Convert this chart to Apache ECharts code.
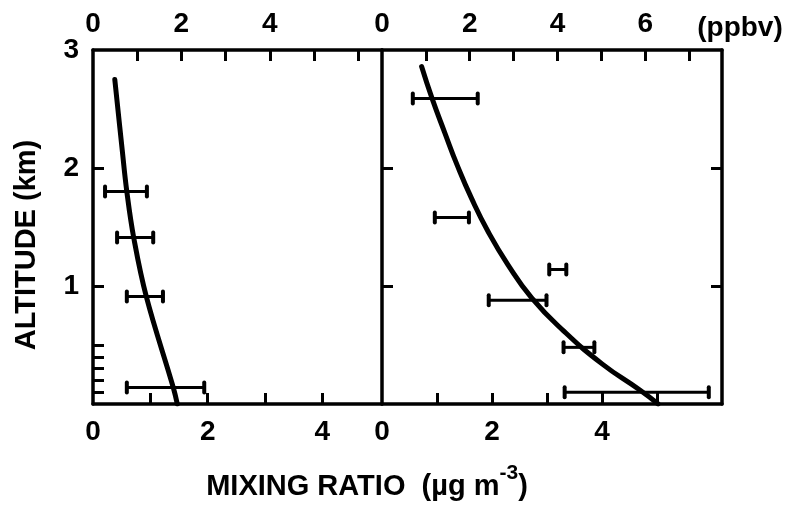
<!DOCTYPE html>
<html>
<head>
<meta charset="utf-8">
<script src="https://cdn.jsdelivr.net/npm/echarts@6/dist/echarts.min.js"></script>
<style>html,body{margin:0;padding:0;background:#fff}#c{width:787px;height:506px}</style>
</head>
<body>
<div id="c"></div>
<script>
// Left panel: fitted curve [mixing ratio (ug m-3), altitude (km)]
const leftCurve = [[0.38,2.75],[0.51,2.15],[0.59,1.80],[0.71,1.41],[0.93,0.91],[1.40,0.14],[1.47,0.0]];
// Left panel error bars [low, high, altitude]
const leftBars = [[0.21,0.94,1.80],[0.42,1.05,1.41],[0.59,1.22,0.91],[0.59,1.94,0.14]];
// Right panel: fitted curve
const rightCurve = [[0.72,2.86],[0.91,2.59],[1.14,2.30],[1.37,2.02],[1.63,1.74],[1.93,1.46],[2.29,1.18],[2.72,0.90],[3.30,0.62],[4.00,0.34],[4.68,0.12],[5.02,0.0]];
// Right panel error bars [low, high, altitude]
const rightBars = [[0.56,1.74,2.59],[0.96,1.58,1.58],[3.04,3.35,1.14],[1.94,2.99,0.88],[3.30,3.86,0.48],[3.32,5.94,0.10]];
// Axis ranges and tick labels
const leftUgMax = 5.04, leftPpbvMax = 6.54, rightUgMax = 6.18, rightPpbvMax = 7.75;
const ugLabels = [0,2,4];
const ppbvLabelsLeft = [0,2,4];
const ppbvLabelsRight = [0,2,4,6];
const altLabels = [1,2,3];
const altTicks = [0.1,0.2,0.3,0.4,0.5,1,2];

const FONT = "'Liberation Sans', Arial, Helvetica, sans-serif";
const line = {show:true, onZero:false, lineStyle:{color:'#000', width:3.5}};
const tick = (vals) => ({show:true, inside:true, length:11, lineStyle:{color:'#000', width:3}, customValues: vals});
const lab = (vals, margin) => ({show:true, color:'#000', fontSize:28, fontWeight:'bold', fontFamily:FONT, margin:margin, customValues: vals});
const noLab = {show:false};

function errRender(params, api){
  const a = api.coord([api.value(0), api.value(2)]);
  const b = api.coord([api.value(1), api.value(2)]);
  const cs = {stroke:'#000', lineWidth:4, lineCap:'round'};
  return {type:'group', children:[
    {type:'line', shape:{x1:a[0],y1:a[1],x2:b[0],y2:b[1]}, style:{stroke:'#000', lineWidth:3}},
    {type:'line', shape:{x1:a[0],y1:a[1]-5,x2:a[0],y2:a[1]+5}, style:cs},
    {type:'line', shape:{x1:b[0],y1:b[1]-5,x2:b[0],y2:b[1]+5}, style:cs}
  ]};
}

const chart = echarts.init(document.getElementById('c'), null, {renderer:'canvas'});
chart.setOption({
  backgroundColor:'#fff',
  animation:false,
  grid:[
    {left:93, top:50, width:289, height:354},
    {left:382, top:50, width:340, height:354}
  ],
  xAxis:[
    {type:'value', gridIndex:0, position:'bottom', min:0, max:leftUgMax, axisLine:line, axisTick:tick([1,2,3,4]), axisLabel:lab(ugLabels,14), splitLine:{show:false}},
    {type:'value', gridIndex:0, position:'top', min:0, max:leftPpbvMax, axisLine:line, axisTick:tick([1,2,3,4,5,6]), axisLabel:lab(ppbvLabelsLeft,12), splitLine:{show:false}},
    {type:'value', gridIndex:1, position:'bottom', min:0, max:rightUgMax, axisLine:line, axisTick:tick([1,2,3,4,5]), axisLabel:lab(ugLabels,14), splitLine:{show:false}},
    {type:'value', gridIndex:1, position:'top', min:0, max:rightPpbvMax, axisLine:line, axisTick:tick([1,2,3,4,5,6,7]), axisLabel:lab(ppbvLabelsRight,12), splitLine:{show:false}}
  ],
  yAxis:[
    {type:'value', gridIndex:0, position:'left', min:0, max:3, axisLine:line, axisTick:tick(altTicks), axisLabel:lab(altLabels,14), splitLine:{show:false}},
    {type:'value', gridIndex:1, position:'left', min:0, max:3, axisLine:line, axisTick:tick([1,2]), axisLabel:noLab, splitLine:{show:false}},
    {type:'value', gridIndex:1, position:'right', min:0, max:3, axisLine:line, axisTick:tick([1,2]), axisLabel:noLab, splitLine:{show:false}}
  ],
  series:[
    {type:'line', xAxisIndex:0, yAxisIndex:0, data:leftCurve, smooth:0.4, showSymbol:false, lineStyle:{color:'#000', width:5, cap:'round'}},
    {type:'custom', xAxisIndex:0, yAxisIndex:0, data:leftBars, encode:{x:[0,1], y:2}, renderItem:errRender},
    {type:'line', xAxisIndex:2, yAxisIndex:1, data:rightCurve, smooth:0.5, showSymbol:false, lineStyle:{color:'#000', width:5, cap:'round'}},
    {type:'custom', xAxisIndex:2, yAxisIndex:1, data:rightBars, encode:{x:[0,1], y:2}, renderItem:errRender}
  ],
  graphic:[
    {type:'text', x:740, y:28, style:{text:'(ppbv)', fill:'#000', font:'bold 28px '+FONT, textAlign:'center', textVerticalAlign:'middle'}},
    {type:'text', x:27, y:245, rotation:Math.PI/2, style:{text:'ALTITUDE (km)', fill:'#000', font:'bold 29px '+FONT, textAlign:'center', textVerticalAlign:'middle'}},
    {type:'text', x:367, y:482, style:{
      text:'{a|MIXING RATIO  (µg m}{s|-3}{a|)}', textAlign:'center', textVerticalAlign:'middle',
      rich:{a:{fontSize:29, fontWeight:'bold', fontFamily:FONT, fill:'#000', color:'#000', lineHeight:38, verticalAlign:'bottom'},
            s:{fontSize:21, fontWeight:'bold', fontFamily:FONT, fill:'#000', color:'#000', lineHeight:38, verticalAlign:'top'}}
    }}
  ]
});
</script>
</body>
</html>
